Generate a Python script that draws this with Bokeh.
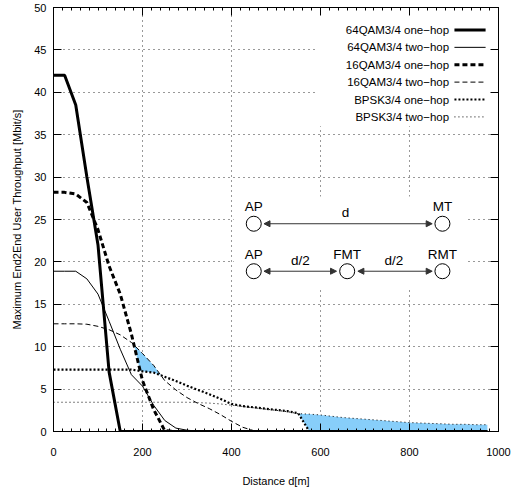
import numpy as np
from bokeh.plotting import figure
from bokeh.models import LinearAxis, Range1d, FixedTicker, Arrow, NormalHead
from bokeh.embed import file_html
from bokeh.resources import INLINE
from bokeh.core.properties import value

# ---------------- data ----------------
distance = list(range(0, 1000, 25))  # 0 .. 975 m

qam64_one = [42, 42, 38.5, 30, 22, 7, 0] + [0] * 33
qam64_two = [18.9, 18.9, 18.9, 18.0, 16.2, 13.0, 9.7, 6.7, 5.35, 3.1,
             1.3, 0.4, 0.15, 0.05] + [0] * 26
qam16_one = [28.2, 28.2, 28.0, 27.0, 23.8, 19.5, 16.2, 11.5, 6.0, 2.6,
             0.1] + [0] * 29
qam16_two = [12.7, 12.7, 12.7, 12.65, 12.4, 12.0, 11.4, 10.5, 9.2, 7.8,
             6.0, 4.9, 4.0, 3.3, 2.7, 2.0, 1.2, 0.5, 0.1] + [0] * 21
bpsk_one = [7.3, 7.3, 7.3, 7.3, 7.3, 7.3, 7.3, 7.3, 7.1, 6.95,
            6.45, 5.95, 5.4, 4.9, 4.4, 3.85, 3.25, 3.0, 2.85, 2.7,
            2.55, 2.4, 2.15, 0] + [0] * 16
bpsk_two = [3.45] * 13 + [3.4, 3.35, 3.25, 3.1, 2.95, 2.8, 2.65,
                          2.5, 2.35, 2.1, 2.05, 1.95, 1.8, 1.65, 1.55, 1.45, 1.35,
                          1.25, 1.15, 1.05, 1.0, 0.95, 0.9, 0.85, 0.85, 0.8, 0.8]

series_labels = ["64QAM3/4 one\u2212hop", "64QAM3/4 two\u2212hop",
                 "16QAM3/4 one\u2212hop", "16QAM3/4 two\u2212hop",
                 "BPSK3/4 one\u2212hop", "BPSK3/4 two\u2212hop"]
series_values = [qam64_one, qam64_two, qam16_one, qam16_two, bpsk_one, bpsk_two]

x_ticks = [0, 200, 400, 600, 800, 1000]
y_ticks = list(range(0, 55, 5))

# styles: (line_width, line_dash)
styles = [(3, "solid"), (1, "solid"), (3, "5 3"), (1, "5 3"), (2.2, "2 2"), (1, "1 3")]

FONT = "Liberation Sans"

p = figure(width=518, height=490, x_range=Range1d(0, 1000), y_range=Range1d(0, 50),
           output_backend="svg", toolbar_location=None,
           min_border_left=53, min_border_right=20, min_border_top=7, min_border_bottom=59)
p.outline_line_color = "black"
p.background_fill_color = "white"
p.border_fill_color = "white"

for ax in (p.xaxis[0], p.yaxis[0]):
    ax.major_tick_in = 8
    ax.major_tick_out = 0
    ax.minor_tick_in = 3
    ax.minor_tick_out = 0
    ax.axis_line_color = "black"
    ax.major_label_text_font = FONT
    ax.major_label_text_font_size = "11px"
    ax.major_label_text_color = "black"
    ax.axis_label_text_font = FONT
    ax.axis_label_text_font_size = "11px"
    ax.axis_label_text_font_style = "normal"
    ax.axis_label_text_color = "black"

p.xaxis[0].ticker = FixedTicker(ticks=x_ticks, minor_ticks=list(range(0, 1001, 20)))
p.yaxis[0].ticker = FixedTicker(ticks=y_ticks, minor_ticks=[])
p.xaxis[0].axis_label = "Distance d[m]"
p.yaxis[0].axis_label = "Maximum End2End User Throughput [Mbit/s]"
p.xaxis[0].major_label_standoff = 16
p.xaxis[0].axis_label_standoff = 16
p.yaxis[0].major_label_standoff = 7
p.yaxis[0].axis_label_standoff = 8

# mirrored ticks on top and right (no labels)
for loc, ticks, minor in (("above", x_ticks, list(range(0, 1001, 20))), ("right", y_ticks, [])):
    ax = LinearAxis(ticker=FixedTicker(ticks=ticks, minor_ticks=minor))
    ax.major_tick_in = 8
    ax.major_tick_out = 0
    ax.minor_tick_in = 3
    ax.minor_tick_out = 0
    ax.major_label_text_font_size = "1px"
    ax.major_label_text_color = None
    ax.major_label_standoff = 0
    ax.axis_line_color = "black"
    p.add_layout(ax, loc)

p.xgrid.ticker = FixedTicker(ticks=x_ticks)
p.ygrid.ticker = FixedTicker(ticks=y_ticks)
for g in (p.xgrid[0], p.ygrid[0]):
    g.grid_line_color = "#333333"
    g.grid_line_dash = "1 4"
    g.grid_line_width = 1

# ---------- shaded area: where the best two-hop exceeds the best one-hop ----------
fine = np.arange(0, distance[-1] + 0.5, 0.5)
best_one = np.max([np.interp(fine, distance, s) for s in series_values[0::2]], axis=0)
best_two = np.max([np.interp(fine, distance, s) for s in series_values[1::2]], axis=0)
p.varea(x=fine, y1=best_one, y2=np.maximum(best_one, best_two), fill_color="#87cefa")

# ---------- curves ----------
for vals, (lw, dash) in zip(series_values, styles):
    p.line(distance, vals, line_color="black", line_width=lw, line_dash=dash)

# ---------- key (gnuplot style: text right-aligned, sample on the right) ----------
p.quad(left=[590], right=[999], bottom=[36.0], top=[49.9], fill_color="white", line_color=None)
key_text_x = 889
key_line_x0, key_line_x1 = 901, 971
key_top, key_step = 47.35, 2.05
for i, (lab, (lw, dash)) in enumerate(zip(series_labels, styles)):
    yy = key_top - i * key_step
    p.text(x=[key_text_x], y=[yy], text=[lab], text_align="right", text_baseline="middle",
           text_font=value(FONT), text_font_size="11.5px", text_color="black")
    p.line([key_line_x0, key_line_x1], [yy, yy], line_color="black", line_width=lw, line_dash=dash)

# ---------- diagram ----------
p.quad(left=[405], right=[925], bottom=[17.0], top=[27.7], fill_color="white", line_color=None)
node_x = [450, 874, 450, 660, 874]
node_y = [24.5, 24.5, 18.9, 18.9, 18.9]
node_lab = ["AP", "MT", "AP", "FMT", "RMT"]
p.scatter(node_x, node_y, marker="circle", size=15, fill_color="white", line_color="black",
          line_width=1)
p.text(x=node_x, y=[y + 2.0 for y in node_y], text=node_lab, text_align="center",
       text_baseline="middle", text_font=value(FONT), text_font_size="13.5px", text_color="black")
p.text(x=[656, 555, 765], y=[25.85, 20.15, 20.15], text=["d", "d/2", "d/2"], text_align="center",
       text_baseline="middle", text_font=value(FONT), text_font_size="13.5px", text_color="black")
for x0, x1, yy in ((473, 851, 24.5), (473, 636, 18.9), (684, 851, 18.9)):
    p.add_layout(Arrow(x_start=x0, x_end=x1, y_start=yy, y_end=yy, line_color="#333333",
                       line_width=1,
                       start=NormalHead(size=6, fill_color="#333333", line_color="#333333"),
                       end=NormalHead(size=6, fill_color="#333333", line_color="#333333")))

open("out.html", "w").write(file_html(p, INLINE))
